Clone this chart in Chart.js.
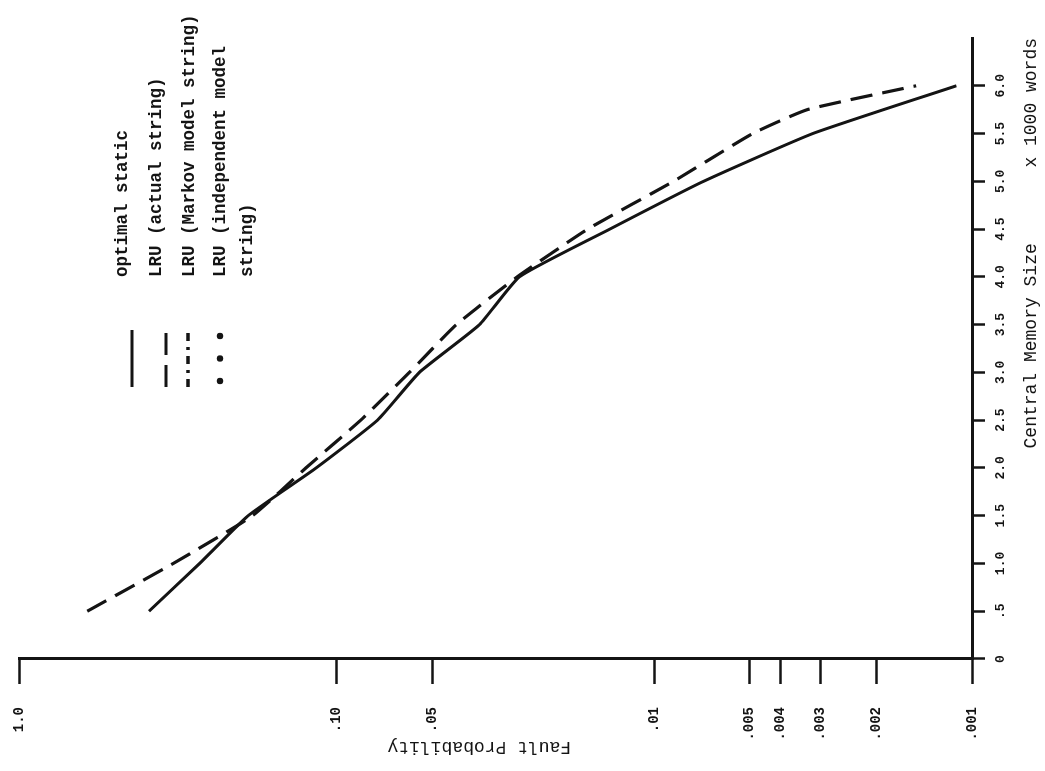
<!DOCTYPE html>
<html>
<head>
<meta charset="utf-8">
<script src="https://cdn.jsdelivr.net/npm/chart.js@4.4.1/dist/chart.umd.min.js"></script>
<style>
html, body { margin: 0; padding: 0; background: #fff; overflow: hidden; width: 1045px; height: 771px; }
#wrap { position: absolute; left: 0; top: 0; width: 771px; height: 1045px;
        transform-origin: 0 0; transform: translate(0, 771px) rotate(-90deg); background: #fff; }
canvas { display: block; }
</style>
</head>
<body>
<div id="wrap"><canvas id="c" width="771" height="1045"></canvas></div>
<script>
// ---- data ----
// Central memory size (x 1000 words)
const memoryOptimal = [0.5, 1.0, 1.5, 2.0, 2.5, 3.0, 3.5, 4.0, 4.5, 5.0, 5.5, 6.0];
const faultOptimal  = [0.39, 0.27, 0.19, 0.116, 0.0744, 0.0549, 0.0355, 0.0266, 0.0138, 0.0070, 0.00317, 0.00112];

const memoryLruActual = [0.5, 1.0, 1.5, 2.0, 2.5, 3.0, 3.5, 4.0, 4.5, 5.0, 5.5, 5.75, 6.0];
const faultLruActual  = [0.61, 0.327, 0.184, 0.125, 0.084, 0.059, 0.042, 0.027, 0.0162, 0.0087, 0.0049, 0.0033, 0.0015];

const memoryLruMarkov = [];
const faultLruMarkov  = [];
const memoryLruIndependent = [];
const faultLruIndependent  = [];

const seriesLegendLines = [
  ['optimal static'],
  ['LRU (actual string)'],
  ['LRU (Markov model string)'],
  ['LRU (independent model', 'string)']
];

const memoryTicks = [0, 0.5, 1.0, 1.5, 2.0, 2.5, 3.0, 3.5, 4.0, 4.5, 5.0, 5.5, 6.0];
const memoryTickLabels = ['0', '.5', '1.0', '1.5', '2.0', '2.5', '3.0', '3.5', '4.0', '4.5', '5.0', '5.5', '6.0'];
const faultTicks = [1.0, 0.10, 0.05, 0.01, 0.005, 0.004, 0.003, 0.002, 0.001];
const faultTickLabels = ['1.0', '.10', '.05', '.01', '.005', '.004', '.003', '.002', '.001'];

const xTitle = 'Central Memory Size       x 1000 words';
const yTitle = '   Fault Probability';

// ---- styling ----
const ink = '#141414';
const mono = "'Liberation Mono', 'DejaVu Sans Mono', monospace";

function pts(xs, ys) { return xs.map((x, i) => ({ x: x, y: ys[i] })); }

const inlineLegend = {
  id: 'inlineLegend',
  afterDraw(chart, args, opts) {
    const ctx = chart.ctx, a = chart.chartArea;
    ctx.save();
    ctx.strokeStyle = ink;
    ctx.fillStyle = ink;
    const sx0 = a.left + opts.sampleStart, sx1 = a.left + opts.sampleEnd;
    chart.data.datasets.forEach((ds, i) => {
      const sy = a.top + opts.sampleRows[i];
      if (ds.showLine === false) {
        for (let k = 0; k < 3; k++) {
          const cx = sx0 + 6 + k * ((sx1 - sx0 - 12) / 2);
          ctx.beginPath();
          ctx.arc(cx, sy, 3.2, 0, Math.PI * 2);
          ctx.fill();
        }
      } else {
        ctx.lineWidth = ds.borderWidth;
        ctx.setLineDash(ds.borderDash || []);
        ctx.lineCap = 'butt';
        ctx.beginPath();
        ctx.moveTo(sx0, sy);
        ctx.lineTo(sx1, sy);
        ctx.stroke();
      }
    });
    ctx.setLineDash([]);
    ctx.font = opts.font;
    ctx.textBaseline = 'middle';
    ctx.textAlign = 'left';
    let r = 0;
    seriesLegendLines.forEach((lines) => {
      lines.forEach((ln) => {
        ctx.fillText(ln, a.left + opts.textStart, a.top + opts.textRows[r]);
        r++;
      });
    });
    ctx.restore();
  }
};

new Chart(document.getElementById('c'), {
  type: 'line',
  data: {
    datasets: [
      { label: seriesLegendLines[0].join(' '), data: pts(memoryOptimal, faultOptimal),
        borderColor: ink, borderWidth: 3, borderDash: [], pointRadius: 0, tension: 0.15, fill: false },
      { label: seriesLegendLines[1].join(' '), data: pts(memoryLruActual, faultLruActual),
        borderColor: ink, borderWidth: 3.2, borderDash: [22, 10], pointRadius: 0, tension: 0.15, fill: false },
      { label: seriesLegendLines[2].join(' '), data: pts(memoryLruMarkov, faultLruMarkov),
        borderColor: ink, borderWidth: 3.5, borderDash: [8, 6, 3, 6], pointRadius: 0, tension: 0.15, fill: false },
      { label: seriesLegendLines[3].join(' '), data: pts(memoryLruIndependent, faultLruIndependent),
        borderColor: ink, backgroundColor: ink, borderWidth: 3, showLine: false, pointRadius: 3.2, fill: false }
    ]
  },
  options: {
    responsive: false,
    animation: false,
    devicePixelRatio: 1,
    layout: { padding: { top: 19, right: 38, left: 0, bottom: 0 } },
    plugins: {
      legend: { display: false },
      tooltip: { enabled: false },
      inlineLegend: {
        sampleStart: 272, sampleEnd: 329,
        sampleRows: [113, 147, 169, 201],
        textStart: 382,
        textRows: [104, 138, 171, 202, 229],
        font: "bold 17.5px " + mono
      }
    },
    scales: {
      x: {
        type: 'linear',
        min: 0, max: 6.5,
        afterBuildTicks: (s) => { s.ticks = memoryTicks.map(v => ({ value: v })); },
        afterFit: (s) => { s.height = 73; },
        ticks: {
          autoSkip: false, maxRotation: 0, minRotation: 0, padding: 8,
          color: ink, font: { family: mono, size: 13, weight: 'bold' },
          callback: (v, i) => memoryTickLabels[i]
        },
        grid: { display: true, drawOnChartArea: false, drawTicks: true, tickLength: 13, tickWidth: 2.5, tickColor: ink },
        border: { display: true, width: 3, color: ink },
        title: { display: true, text: xTitle, align: 'end', color: ink,
                 font: { family: mono, size: 18 }, padding: { top: 4, bottom: 3 } }
      },
      y: {
        type: 'logarithmic',
        min: 0.001, max: 1.0,
        afterBuildTicks: (s) => { s.ticks = faultTicks.map(v => ({ value: v })); },
        afterFit: (s) => { s.width = 112; s.paddingTop = 0; s.paddingBottom = 0; },
        ticks: {
          autoSkip: false, padding: 23,
          color: ink, font: { family: mono, size: 14, weight: 'bold' },
          callback: (v, i) => faultTickLabels[i]
        },
        grid: { display: true, drawOnChartArea: false, drawTicks: true, tickLength: 25, tickWidth: 2.5, tickColor: ink },
        border: { display: true, width: 3, color: ink },
        title: { display: true, text: yTitle, color: ink,
                 font: { family: mono, size: 18 }, padding: { top: 13, bottom: 0 } }
      }
    }
  },
  plugins: [inlineLegend]
});
</script>
</body>
</html>
